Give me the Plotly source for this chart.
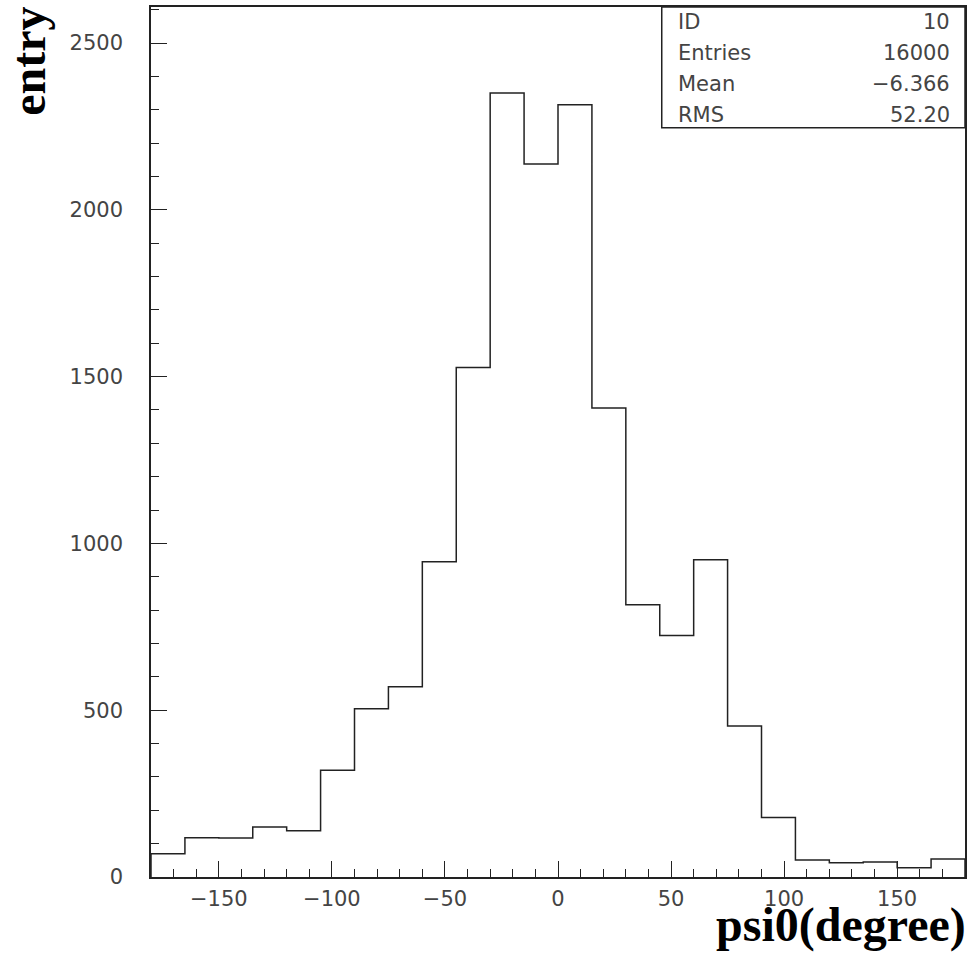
import plotly.graph_objects as go

# ---- data ----
bin_edges = [-180 + 15 * i for i in range(25)]
counts = [70, 118, 117, 150, 139, 320, 504, 570, 945, 1527, 2350, 2137,
          2315, 1406, 816, 724, 951, 453, 178, 51, 43, 45, 28, 54]
stats_labels = ["ID", "Entries", "Mean", "RMS"]
stats_values = ["10", "16000", "\u22126.366", "52.20"]
x_title = "psi0(degree)"
y_title = "entry"

# step outline of histogram
xs = [bin_edges[0]] + bin_edges
ys = [0] + counts + [counts[-1]]
xs.append(bin_edges[-1])
ys.append(0)

W, H = 972, 959
ml, mr, mt, mb = 151, 5, 5, 82
pw, ph = W - ml - mr, H - mt - mb

def px2paper_x(px):
    return (px - ml) / pw

def py2paper_y(py):
    return (H - mb - py) / ph

fig = go.Figure()
fig.add_trace(go.Scatter(x=xs, y=ys, mode="lines", line_shape="hv",
                         line=dict(color="#222222", width=1.5),
                         hoverinfo="skip", showlegend=False))

tickfont = dict(family="DejaVu Sans", size=21, color="#444444")

fig.update_layout(
    width=W, height=H,
    margin=dict(l=ml, r=mr, t=mt, b=mb),
    plot_bgcolor="white", paper_bgcolor="white",
    showlegend=False,
    xaxis=dict(range=[-180, 180], tick0=0, dtick=50, ticks="inside",
               ticklen=16, tickwidth=1.3, tickcolor="#222",
               showline=True, linecolor="#222", linewidth=1.5, mirror=True,
               showgrid=False, zeroline=False, tickfont=tickfont,
               ticklabelstandoff=2,
               minor=dict(dtick=10, tick0=0, ticks="inside", ticklen=8,
                          tickwidth=1.2, tickcolor="#222", showgrid=False)),
    yaxis=dict(range=[0, 2608], tick0=0, dtick=500, ticks="inside",
               ticklen=16, tickwidth=1.3, tickcolor="#222",
               showline=True, linecolor="#222", linewidth=1.5, mirror=True,
               showgrid=False, zeroline=False, tickfont=tickfont,
               ticklabelstandoff=22,
               minor=dict(dtick=100, tick0=0, ticks="inside", ticklen=8,
                          tickwidth=1.2, tickcolor="#222", showgrid=False)),
)

# stats box
fig.add_shape(type="rect", xref="paper", yref="paper",
              x0=px2paper_x(663), x1=1.0, y0=py2paper_y(126), y1=1.0,
              line=dict(color="#222", width=1.5), fillcolor="white")
line_y = [20, 51, 82, 113]
for lab, val, yy in zip(stats_labels, stats_values, line_y):
    fig.add_annotation(text=lab, xref="paper", yref="paper",
                       x=px2paper_x(677), y=py2paper_y(yy),
                       xanchor="left", yanchor="middle", showarrow=False,
                       font=tickfont)
    fig.add_annotation(text=val, xref="paper", yref="paper",
                       x=px2paper_x(954), y=py2paper_y(yy),
                       xanchor="right", yanchor="middle", showarrow=False,
                       font=tickfont)

titlefont = dict(family="Liberation Serif", size=48, color="black", weight="bold")
fig.add_annotation(text=f"<b>{x_title}</b>", xref="paper", yref="paper",
                   x=px2paper_x(970), y=py2paper_y(925),
                   xanchor="right", yanchor="middle", showarrow=False,
                   font=titlefont)
fig.add_annotation(text=f"<b>{y_title}</b>", xref="paper", yref="paper",
                   x=px2paper_x(28), y=py2paper_y(3),
                   xanchor="center", yanchor="top", textangle=-90,
                   showarrow=False, font=titlefont)

fig.write_html("out.html")
